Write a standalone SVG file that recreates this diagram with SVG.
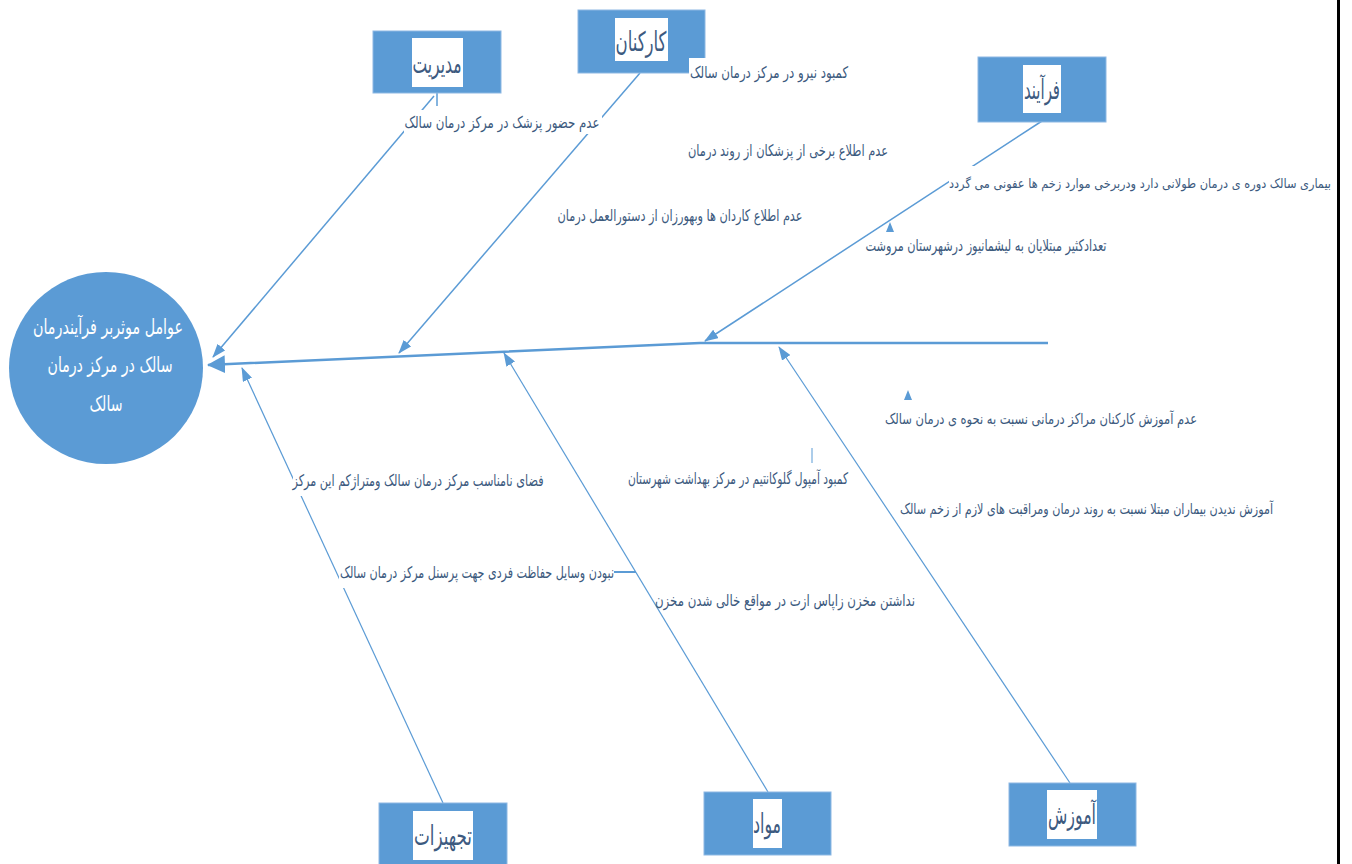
<svg xmlns="http://www.w3.org/2000/svg" width="1352" height="864" viewBox="0 0 1352 864">
<defs>
<style>
.bg{fill:#ffffff}
.box{fill:#5b9bd5;stroke:#8db8e3;stroke-width:1}
.lbl{fill:#ffffff}
.lt{font-family:"DejaVu Sans Condensed","DejaVu Sans",sans-serif;font-size:27px;fill:#3d5a80;text-anchor:middle}
.ct{font-family:"DejaVu Sans Condensed","DejaVu Sans",sans-serif;font-size:16px;fill:#3c5a7e;text-anchor:middle}
.ce{font-family:"DejaVu Sans Condensed","DejaVu Sans",sans-serif;font-size:15px;fill:#3c5a7e;text-anchor:end}
.cs{font-family:"DejaVu Sans Condensed","DejaVu Sans",sans-serif;font-size:13px;fill:#3c5a7e;text-anchor:middle}
.wt{font-family:"DejaVu Sans Condensed","DejaVu Sans",sans-serif;font-size:21px;fill:#ffffff;text-anchor:middle}
.bone{fill:none;stroke:#5b9bd5;stroke-width:1.5}
.boneL{fill:none;stroke:#5b9bd5;stroke-width:1.2}
.spine{fill:none;stroke:#5b9bd5;stroke-width:2.5}
</style>
<marker id="ah" markerUnits="userSpaceOnUse" markerWidth="14" markerHeight="10" refX="13" refY="5" orient="auto">
<path d="M0,0 L14,5 L0,10 z" fill="#5b9bd5"/>
</marker>
<marker id="ahBig" markerUnits="userSpaceOnUse" markerWidth="18" markerHeight="18" refX="17" refY="9" orient="auto">
<path d="M0,0 L18,9 L0,18 z" fill="#5b9bd5"/>
</marker>
</defs>
<rect width="1352" height="864" fill="#ffffff"/>

<g id="connectors">
<path class="spine" d="M1048,343 L700,343 L208,365" marker-end="url(#ahBig)"/>
<path class="bone" d="M437,93 L437,106"/>
<path class="bone" d="M434,96 L213,357" marker-end="url(#ah)"/>
<path class="bone" d="M640,73 L399,353" marker-end="url(#ah)"/>
<path class="bone" d="M1042,121 L705,341" marker-end="url(#ah)"/>
<path class="boneL" d="M1070,783 L779,347" marker-end="url(#ah)"/>
<path class="boneL" d="M768,792 L504,353" marker-end="url(#ah)"/>
<path class="boneL" d="M443,803 L242,368" marker-end="url(#ah)"/>
<path d="M613,572 L636,572" stroke="#5b9bd5" stroke-width="2" fill="none"/>
<path d="M812,448 L812,463" stroke="#5b9bd5" stroke-width="1" fill="none"/>
<path d="M890,222 L894,232 L886,232 z" fill="#5b9bd5"/>
<path d="M908,390 L912,400 L904,400 z" fill="#5b9bd5"/>
</g>

<g id="effect">
<ellipse cx="106" cy="368" rx="97" ry="96" fill="#5b9bd5"/>
<text class="wt" x="108" y="334" textLength="150" lengthAdjust="spacingAndGlyphs">عوامل موثربر فرآیندرمان</text>
<text class="wt" x="110" y="372" textLength="125" lengthAdjust="spacingAndGlyphs">سالک در مرکز درمان</text>
<text class="wt" x="106" y="411" textLength="33" lengthAdjust="spacingAndGlyphs">سالک</text>
</g>

<g id="node-management">
<rect class="box" x="373" y="31" width="128" height="62"/>
<rect class="lbl" x="412" y="38" width="51" height="49"/>
<text class="lt" x="437" y="73" textLength="49" lengthAdjust="spacingAndGlyphs">مدیریت</text>
</g>
<g id="node-staff">
<rect class="box" x="578" y="10" width="127" height="63"/>
<rect class="lbl" x="615" y="18" width="53" height="43"/>
<text class="lt" x="641" y="51" textLength="51" lengthAdjust="spacingAndGlyphs">کارکنان</text>
</g>
<g id="node-process">
<rect class="box" x="978" y="57" width="128" height="65"/>
<rect class="lbl" x="1023" y="65" width="38" height="48"/>
<text class="lt" x="1042" y="99" textLength="36" lengthAdjust="spacingAndGlyphs">فرآیند</text>
</g>
<g id="node-equipment">
<rect class="box" x="379" y="803" width="128" height="64"/>
<rect class="lbl" x="413" y="811" width="60" height="49"/>
<text class="lt" x="443" y="845" textLength="58" lengthAdjust="spacingAndGlyphs">تجهیزات</text>
</g>
<g id="node-materials">
<rect class="box" x="704" y="792" width="127" height="63"/>
<rect class="lbl" x="753" y="799" width="29" height="49"/>
<text class="lt" x="767" y="833" textLength="28" lengthAdjust="spacingAndGlyphs">مواد</text>
</g>
<g id="node-education">
<rect class="box" x="1009" y="783" width="127" height="63"/>
<rect class="lbl" x="1047" y="790" width="50" height="49"/>
<text class="lt" x="1072" y="824" textLength="48" lengthAdjust="spacingAndGlyphs">آموزش</text>
</g>

<g id="causes">
<rect class="bg" x="404" y="110" width="198" height="24"/>
<text class="ct" x="502" y="128" textLength="195" lengthAdjust="spacingAndGlyphs">عدم حضور پزشک در مرکز درمان سالک</text>
<rect class="bg" x="689" y="58" width="160" height="24"/>
<text class="ct" x="769" y="78" textLength="158" lengthAdjust="spacingAndGlyphs">کمبود نیرو در مرکز درمان سالک</text>
<text class="ct" x="788" y="156" textLength="200" lengthAdjust="spacingAndGlyphs">عدم اطلاع برخی از پزشکان از روند درمان</text>
<text class="ct" x="680" y="221" textLength="245" lengthAdjust="spacingAndGlyphs">عدم اطلاع کاردان ها وبهورزان از دستورالعمل درمان</text>
<rect class="bg" x="949" y="166" width="384" height="32"/>
<text class="cs" x="1140" y="188" textLength="382" lengthAdjust="spacingAndGlyphs">بیماری سالک دوره ی درمان طولانی دارد ودربرخی موارد زخم ها عفونی می گردد</text>
<text class="ct" x="986" y="251" textLength="241" lengthAdjust="spacingAndGlyphs">تعدادکثیر مبتلایان به لیشمانیوز درشهرستان مروشت</text>
<text class="ce" x="1197" y="424" textLength="312" lengthAdjust="spacingAndGlyphs">عدم آموزش   کارکنان مراکز درمانی نسبت به نحوه ی درمان سالک</text>
<text class="ce" x="1273" y="514" textLength="373" lengthAdjust="spacingAndGlyphs">آموزش ندیدن بیماران مبتلا نسبت به روند درمان ومراقبت های لازم از زخم سالک</text>
<text class="ct" x="738" y="484" textLength="220" lengthAdjust="spacingAndGlyphs">کمبود آمپول گلوکانتیم در مرکز بهداشت شهرستان</text>
<text class="ct" x="785" y="606" textLength="260" lengthAdjust="spacingAndGlyphs">نداشتن مخزن زاپاس ازت در مواقع خالی شدن مخزن</text>
<rect class="bg" x="293" y="470" width="252" height="26"/>
<text class="ct" x="418" y="486" textLength="251" lengthAdjust="spacingAndGlyphs">فضای نامناسب مرکز درمان سالک ومتراژکم این مرکز</text>
<rect class="bg" x="339" y="562" width="275" height="26"/>
<text class="ct" x="477" y="578" textLength="274" lengthAdjust="spacingAndGlyphs">نبودن وسایل حفاظت فردی جهت پرسنل مرکز درمان سالک</text>
</g>

<rect x="1337" y="0" width="3" height="864" fill="#000000"/>
</svg>
